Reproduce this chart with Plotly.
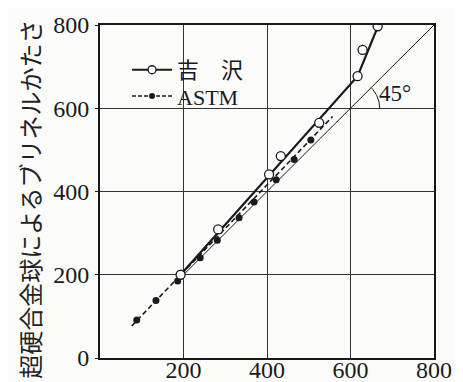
import numpy as np
import plotly.graph_objects as go

# Data
yoshizawa_x = [193, 283, 405, 433, 525, 617, 629, 665]
yoshizawa_y = [200, 309, 441, 485, 565, 677, 740, 797]
yoshizawa_fit_x = [193, 617, 667]
yoshizawa_fit_y = [200, 677, 800]

astm_x = [88, 134, 186, 240, 281, 333, 369, 422, 465, 505]
astm_y = [91, 138, 185, 241, 283, 337, 375, 428, 477, 524]
astm_fit_x = [76, 557]
astm_fit_y = [77, 580]

diag_x = [190, 800]
diag_y = [190, 800]

x_ticks = [200, 400, 600, 800]
y_ticks = [0, 200, 400, 600, 800]
y_title = "超硬合金球によるブリネルかたさ"
legend_names = ["吉\u3000沢", "ASTM"]
angle_label = "45°"
angle_center = (600, 600)
angle_radius = 70

INK = "#1a1a1a"
SERIF = "Liberation Serif, Noto Sans CJK JP, serif"

fig = go.Figure()

# 45 degree reference line
fig.add_trace(go.Scatter(x=diag_x, y=diag_y, mode="lines",
                         line=dict(color=INK, width=1), showlegend=False, hoverinfo="skip"))
# angle arc
theta = np.linspace(0, np.pi / 4, 30)
fig.add_trace(go.Scatter(x=angle_center[0] + angle_radius * np.cos(theta),
                         y=angle_center[1] + angle_radius * np.sin(theta),
                         mode="lines", line=dict(color=INK, width=1),
                         showlegend=False, hoverinfo="skip"))

# ASTM fit line (dashed) and points
fig.add_trace(go.Scatter(x=astm_fit_x, y=astm_fit_y, mode="lines",
                         line=dict(color=INK, width=1.6, dash="5px,3px"),
                         showlegend=False))
fig.add_trace(go.Scatter(x=astm_x, y=astm_y, mode="markers",
                         marker=dict(color=INK, size=7, line=dict(width=0)),
                         showlegend=False))

# Yoshizawa fit line (solid) and points
fig.add_trace(go.Scatter(x=yoshizawa_fit_x, y=yoshizawa_fit_y, mode="lines",
                         line=dict(color=INK, width=2.2), showlegend=False))
fig.add_trace(go.Scatter(x=yoshizawa_x, y=yoshizawa_y, mode="markers",
                         marker=dict(color="white", size=9, line=dict(color=INK, width=1.3)),
                         showlegend=False))

# legend entries (two separately positioned legends)
fig.add_trace(go.Scatter(x=[None], y=[None], mode="lines+markers", name=legend_names[0],
                         line=dict(color=INK, width=2.2), legend="legend",
                         marker=dict(color="white", size=8, line=dict(color=INK, width=1.3))))
fig.add_trace(go.Scatter(x=[None], y=[None], mode="lines+markers", name=legend_names[1],
                         line=dict(color=INK, width=1.6, dash="4px,2px"), legend="legend2",
                         marker=dict(color=INK, size=6)))

fig.add_annotation(x=706, y=636, text=angle_label, showarrow=False,
                   font=dict(family=SERIF, size=23, color=INK), xanchor="center", yanchor="middle")

fig.add_annotation(xref="paper", yref="paper", x=-0.21, y=0.478, text=y_title,
                   textangle=-90, showarrow=False,
                   font=dict(family="Noto Sans CJK JP", size=24, color="#222"),
                   xanchor="center", yanchor="middle")

axis_common = dict(showline=True, mirror=True, linecolor=INK, linewidth=2,
                   showgrid=True, gridcolor="#333333", gridwidth=1.4,
                   zeroline=False, range=[0, 800], automargin=False,
                   tickfont=dict(family=SERIF, size=24, color=INK))

fig.update_xaxes(**axis_common, tickvals=x_ticks, ticks="", ticklabelstandoff=-11)
fig.update_yaxes(**axis_common, tickvals=y_ticks, ticks="outside", ticklen=3,
                 tickcolor=INK, tickwidth=1.4, ticklabelstandoff=1)

leg_common = dict(xanchor="left", yanchor="middle", bgcolor="rgba(0,0,0,0)",
                  font=dict(family=SERIF, size=22, color=INK), itemwidth=40)

# the page body adds an 8px offset; margins compensate so the plot area
# sits at x 100..434, y 25..358 in the window
fig.update_layout(
    width=463, height=382,
    margin=dict(l=92, r=37, t=17, b=32, autoexpand=False),
    paper_bgcolor="#fbfbfa", plot_bgcolor="#fbfbfa",
    showlegend=True,
    legend=dict(x=0.081, y=0.865, **leg_common),
    legend2=dict(x=0.081, y=0.786, **leg_common),
    font=dict(family=SERIF, color=INK),
)

fig.write_html("out.html")
